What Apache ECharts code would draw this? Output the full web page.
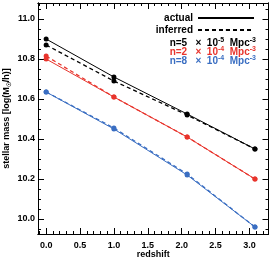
<!DOCTYPE html>
<html><head><meta charset="utf-8">
<script src="https://cdn.jsdelivr.net/npm/echarts@6/dist/echarts.min.js"></script>
<style>html,body{margin:0;padding:0;background:#fff}#c{width:273px;height:260px}</style>
</head><body><div id="c"></div>
<script>
var redshift = [0.0, 1.0, 2.08, 3.08];
var blackActual   = [10.90, 10.71, 10.525, 10.35];
var blackInferred = [10.87, 10.69, 10.52, 10.35];
var redActual     = [10.80, 10.61, 10.41, 10.20];
var redInferred   = [10.815, 10.61, 10.41, 10.20];
var blueActual    = [10.635, 10.45, 10.22, 9.96];
var blueInferred  = [10.635, 10.455, 10.225, 9.96];
var xMajorTicks = [0.0, 0.5, 1.0, 1.5, 2.0, 2.5, 3.0];
var xMinorTicks = [-0.1,0.0,0.1,0.2,0.3,0.4,0.5,0.6,0.7,0.8,0.9,1.0,1.1,1.2,1.3,1.4,1.5,1.6,1.7,1.8,1.9,2.0,2.1,2.2,2.3,2.4,2.5,2.6,2.7,2.8,2.9,3.0,3.1,3.2];
var yMajorTicks = [10.0, 10.2, 10.4, 10.6, 10.8, 11.0];
var yMinorTicks = [9.95,10.0,10.05,10.1,10.15,10.2,10.25,10.3,10.35,10.4,10.45,10.5,10.55,10.6,10.65,10.7,10.75,10.8,10.85,10.9,10.95,11.0,11.05];
var legendNames = ['actual', 'inferred'];
var densityMant = ['5', '2', '8'];
var densityExp = ['-5', '-4', '-4'];

var BLACK = '#000000', RED = '#e8342c', BLUE = '#3a6ec2';
var colors = [BLACK, RED, BLUE];
var FONT = 'Liberation Sans';
var XMIN = -0.12, XMAX = 3.28, YMIN = 9.925, YMAX = 11.08;

function pairs(xs, ys){ return xs.map(function(x,i){return [x, ys[i]];}); }

function xAx(pos, ticks, len, labels){
  return {type:'value', position:pos, min:XMIN, max:XMAX, splitLine:{show:false},
    axisLine:{show:true, onZero:false, lineStyle:{color:'#000', width:1}},
    axisTick:{show:true, inside:true, length:len, customValues:ticks, lineStyle:{color:'#000', width:1}},
    axisLabel:labels ? {show:true, customValues:xMajorTicks, margin:7, color:'#000', fontFamily:FONT, fontWeight:'bold', fontSize:9,
      formatter:function(v){return v.toFixed(1);}} : {show:false},
    name: labels ? 'redshift' : '', nameLocation:'middle', nameGap:16, nameMoveOverlap:false,
    nameTextStyle:{color:'#000', fontFamily:FONT, fontWeight:'bold', fontSize:9}};
}
function yAx(pos, ticks, len, labels){
  return {type:'value', position:pos, min:YMIN, max:YMAX, splitLine:{show:false},
    axisLine:{show:true, onZero:false, lineStyle:{color:'#000', width:1}},
    axisTick:{show:true, inside:true, length:len, customValues:ticks, lineStyle:{color:'#000', width:1}},
    axisLabel:labels ? {show:true, customValues:yMajorTicks, margin:3, color:'#000', fontFamily:FONT, fontWeight:'bold', fontSize:9,
      formatter:function(v){return v.toFixed(1);}} : {show:false},
    name: labels ? '{t|stellar mass [log(M}{s|\u2609}{t|/h)]}' : '', nameLocation:'middle', nameGap:26, nameMoveOverlap:false,
    nameTextStyle:{color:'#000', fontFamily:FONT, fontWeight:'bold', fontSize:9,
      rich:{t:{fontFamily:FONT, fontWeight:'bold', fontSize:9}, s:{fontFamily:FONT, fontWeight:'bold', fontSize:6, padding:[5,0,0,0]}}}};
}

var series = [];
var act = [blackActual, redActual, blueActual];
var inf = [blackInferred, redInferred, blueInferred];
for (var k=0;k<3;k++){
  series.push({type:'line', xAxisIndex:0, yAxisIndex:0, data:pairs(redshift, act[k]), symbol:'circle', symbolSize:5,
    itemStyle:{color:colors[k]}, lineStyle:{color:colors[k], width:1, type:'solid'}, silent:true, z:3});
  series.push({type:'line', xAxisIndex:0, yAxisIndex:0, data:pairs(redshift, inf[k]), symbol:'circle', symbolSize:5,
    itemStyle:{color:colors[k]}, lineStyle:{color:colors[k], width:1.3, type:[4,3]}, silent:true, z:3});
}
series.push({name:legendNames[0], type:'line', data:[], symbol:'none', lineStyle:{color:'#000', width:1.2, type:'solid'}, itemStyle:{color:'#000'}});
series.push({name:legendNames[1], type:'line', data:[], symbol:'none', lineStyle:{color:'#000', width:1.2, type:[4,3]}, itemStyle:{color:'#000'}});

var texts = [];
for (var j=0;j<3;j++){
  texts.push({type:'text', right:17, top:37 + j*9, z:10,
    style:{text:'{a|n=' + densityMant[j] + '   \u00d7  10}{b|' + densityExp[j] + '}{a|  Mpc}{b|-3}',
      fill:colors[j], font:'bold 10px ' + FONT,
      rich:{a:{fill:colors[j], fontFamily:FONT, fontWeight:'bold', fontSize:10},
            b:{fill:colors[j], fontFamily:FONT, fontWeight:'bold', fontSize:7, padding:[0,0,5,0]}}}});
}

var chart = echarts.init(document.getElementById('c'), null, {renderer:'canvas'});
chart.setOption({
  animation:false, backgroundColor:'#fff',
  grid:{left:38, right:4.5, top:3, bottom:26, containLabel:false, outerBoundsMode:'none'},
  xAxis:[xAx('bottom', xMajorTicks, 6, true), xAx('bottom', xMinorTicks, 3, false), xAx('top', xMajorTicks, 6, false), xAx('top', xMinorTicks, 3, false)],
  yAxis:[yAx('left', yMajorTicks, 6, true), yAx('left', yMinorTicks, 3, false), yAx('right', yMajorTicks, 6, false), yAx('right', yMinorTicks, 3, false)],
  legend:{data:legendNames, orient:'vertical', right:13, top:8, align:'right', itemWidth:56, itemHeight:1, itemGap:2,
    textStyle:{color:'#000', fontFamily:FONT, fontWeight:'bold', fontSize:10, padding:[0,0,0,0]}, selectedMode:false},
  graphic:texts,
  series:series
});
</script></body></html>
